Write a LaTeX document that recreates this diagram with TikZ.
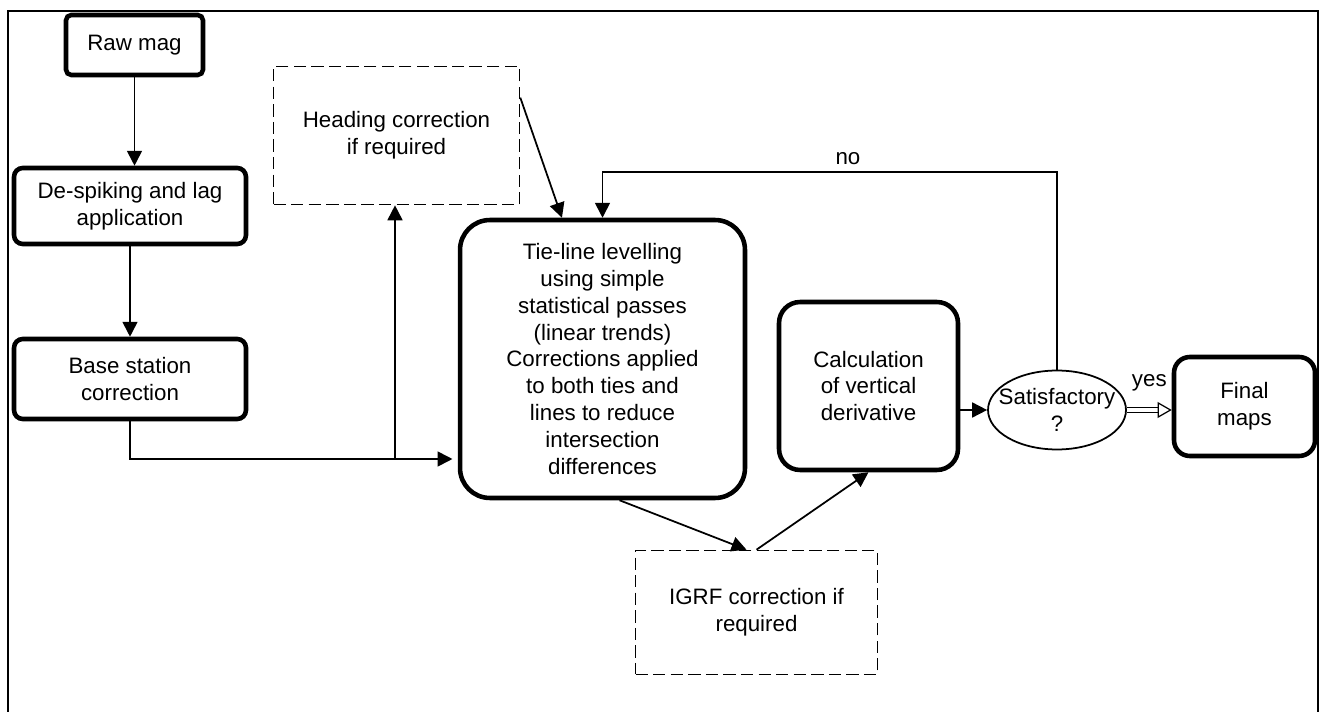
\documentclass[tikz,border=0pt]{standalone}
\usepackage{fontspec}
\setmainfont{Liberation Sans}
\usetikzlibrary{shapes,arrows.meta,calc,positioning}

\tikzset{
  stage/.style={draw, line width=2.6pt, rounded corners=#1, align=center, inner sep=0pt},
  stage/.default=5pt,
  optional/.style={draw, line width=0.95pt, dash pattern=on 7pt off 3pt, align=center, inner sep=0pt},
  flow/.style={line width=1pt, -{Triangle[length=8.5pt,width=8.5pt]}},
  every node/.append style={font=\fontsize{12.7}{15.3}\selectfont}
}

\begin{document}
\begin{tikzpicture}[x=0.02cm, y=-0.02cm]
           \useasboundingbox (0,0) rectangle (1324,712);
           \draw[line width=0.9pt] (8,712) -- (8,11) -- (1318,11) -- (1318,712);

           \node[stage=3pt, minimum width=2.74cm, minimum height=1.20cm] (raw) at (134.5,45) {Raw mag};
           \node[stage, minimum width=4.64cm, minimum height=1.52cm] (despike) at (130,206) {De-spiking and lag\\application};
           \node[stage, minimum width=4.64cm, minimum height=1.60cm] (base) at (130,379) {Base station\\correction};
           \node[optional, minimum width=4.92cm, minimum height=2.76cm] (heading) at (396.5,135.5) {Heading correction\\if required};
           \node[stage=17pt, minimum width=5.70cm, minimum height=5.56cm] (tie) at (602.5,359)
                {Tie-line levelling\\using simple\\statistical passes\\(linear trends)\\Corrections applied\\to both ties and\\lines to reduce\\intersection\\differences};
           \node[optional, minimum width=4.84cm, minimum height=2.48cm] (igrf) at (756.5,612.5) {IGRF correction if\\required};
           \node[stage=12pt, minimum width=3.58cm, minimum height=3.36cm] (calc) at (868.5,386) {Calculation\\of vertical\\derivative};
           \node[ellipse, draw, line width=1pt, minimum width=2.76cm, minimum height=1.58cm, inner sep=0pt,
                 label={[align=center]center:Satisfactory\\?}] (sat) at (1057,410) {};
           \node[stage=9pt, minimum width=2.82cm, minimum height=1.98cm] (final) at (1244.5,406.5) {Final\\maps};

           \coordinate (bend) at (130,459);
           \coordinate (fork) at (395,459);

           \path[flow]
            (raw.south) edge (raw.south |- despike.north)
            (despike) edge (base)
            (heading.17) edge ($(tie.north west)!0.36!(tie.north east)$)
            ($(tie.south)+(17,0)$) edge ($(igrf.north)+(-10,0)$)
            (igrf.north) edge (calc.south)
            (calc.east |- sat.west) edge (sat.west);
           \draw[flow, shorten >=3pt] (base.south) -- (bend) -- (bend -| tie.west);
           \draw[flow] (fork) -- (fork |- heading.south);
           \draw[flow] (sat.north) -- ++(0,-198) -| node[pos=0.23, above] {no} (tie.north);
           \draw[double, double distance=2.5pt, line width=0.7pt, -{Triangle[open,length=8pt,width=9pt]}]
            (sat.east) -- node[above=7pt] {yes} (sat.east -| final.west);
        \end{tikzpicture}
\end{document}
